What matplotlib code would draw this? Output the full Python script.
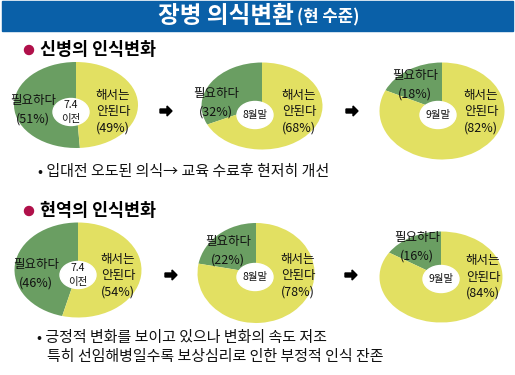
import matplotlib
matplotlib.use("Agg")
import matplotlib.pyplot as plt
from matplotlib.patches import Rectangle, Ellipse, Polygon

plt.rcParams['font.family'] = ['Noto Sans CJK KR', 'DejaVu Sans']

# ---- data ----
title_main = '장병 의식변환'
title_sub = '(현 수준)'
groups = ['신병의 인식변화', '현역의 인식변화']
periods = ['7.4\n이전', '8월말', '9월말']
label_need = '필요하다'
label_not = '해서는\n안된다'
need_pct = [[51, 32, 18], [46, 22, 16]]
not_pct = [[49, 68, 82], [54, 78, 84]]
notes = [['• 입대전 오도된 의식→ 교육 수료후 현저히 개선'],
         ['• 긍정적 변화를 보이고 있으나 변화의 속도 저조',
          '특히 선임해병일수록 보상심리로 인한 부정적 인식 잔존']]

# ---- style / layout ----
W, H = 515, 375
GREEN = '#6a9e62'
YELLOW = '#e2e062'
BLUE = '#0a60a8'
CRIMSON = '#b0104a'

boxes = [[(76, 105, 124, 86), (262, 106, 121, 87), (442, 111, 125, 97)],
         [(78, 270, 127, 95), (256, 273, 117, 100), (441, 277, 123, 91)]]
hole_off = [[(-5, 7), (-7, 9), (-4, 4)], [(0, 5), (-1, 4), (0, 2)]]
need_pos = [[(33, 110), (216, 103), (415, 85)], [(36, 274), (228, 251), (417, 247)]]
not_pos = [[(113, 112), (299, 112), (481, 112)], [(118, 276), (298, 276), (483, 277)]]
header_y = [50, 211]
note_y = [[172], [338, 357]]
note_x = [[38], [37, 47]]
arrow_pos = [[(166, 111), (352, 111)], [(171, 275), (351, 275)]]

fig = plt.figure(figsize=(W / 100, H / 100), dpi=100)
bg = fig.add_axes([0, 0, 1, 1])
bg.set_xlim(0, W)
bg.set_ylim(H, 0)
bg.axis('off')

bg.add_patch(Rectangle((2, 1), 511, 30, color=BLUE, zorder=1))
bg.text(294, 16, title_main, color='white', fontsize=17, fontweight='bold',
        ha='right', va='center', zorder=2)
bg.text(297, 17, title_sub, color='white', fontsize=12, fontweight='bold',
        ha='left', va='center', zorder=2)

for g, name in enumerate(groups):
    bg.add_patch(Ellipse((29, header_y[g]), 9, 9, color=CRIMSON, zorder=2))
    bg.text(40, header_y[g], name, fontsize=12.5, fontweight='bold', ha='left',
            va='center', color='black', zorder=2)
    for (nx, ny), line in zip(zip(note_x[g], note_y[g]), notes[g]):
        bg.text(nx, ny, line, fontsize=10.8, ha='left', va='center', color='#111111')
    for (ax_, ay_) in arrow_pos[g]:
        shape = [(ax_ - 6, ay_ - 2), (ax_ + 1, ay_ - 2), (ax_ + 1, ay_ - 5),
                 (ax_ + 6, ay_), (ax_ + 1, ay_ + 5), (ax_ + 1, ay_ + 2),
                 (ax_ - 6, ay_ + 2)]
        bg.add_patch(Polygon(shape, closed=True, color='black'))

for g in range(len(groups)):
    for p in range(len(periods)):
        cx, cy, w, h = boxes[g][p]
        pa = fig.add_axes([(cx - w / 2) / W, 1 - (cy + h / 2) / H, w / W, h / H])
        pa.pie([need_pct[g][p], not_pct[g][p]], colors=[GREEN, YELLOW],
               startangle=90, counterclock=True, radius=1.0)
        pa.set_aspect('auto')
        pa.set_xlim(-1, 1)
        pa.set_ylim(-1, 1)
        pa.axis('off')
        dx, dy = hole_off[g][p]
        hw, hh = 36, 27
        pa.add_patch(Ellipse((dx / (w / 2), -dy / (h / 2)), hw / (w / 2), hh / (h / 2),
                             color='white', zorder=5))

ov = fig.add_axes([0, 0, 1, 1], facecolor='none')
ov.set_xlim(0, W)
ov.set_ylim(H, 0)
ov.axis('off')
for g in range(len(groups)):
    for p in range(len(periods)):
        cx, cy, w, h = boxes[g][p]
        dx, dy = hole_off[g][p]
        ov.text(cx + dx, cy + dy, periods[p], fontsize=7.5,
                ha='center', va='center', linespacing=1.4, color='#111111')
        x, y = need_pos[g][p]
        ov.text(x, y, f'{label_need}\n({need_pct[g][p]}%)', fontsize=9,
                ha='center', va='center', linespacing=1.6, color='#111111')
        x, y = not_pos[g][p]
        ov.text(x, y, f'{label_not}\n({not_pct[g][p]}%)', fontsize=9,
                ha='center', va='center', linespacing=1.35, color='#111111')

fig.savefig('out.png', dpi=100)
